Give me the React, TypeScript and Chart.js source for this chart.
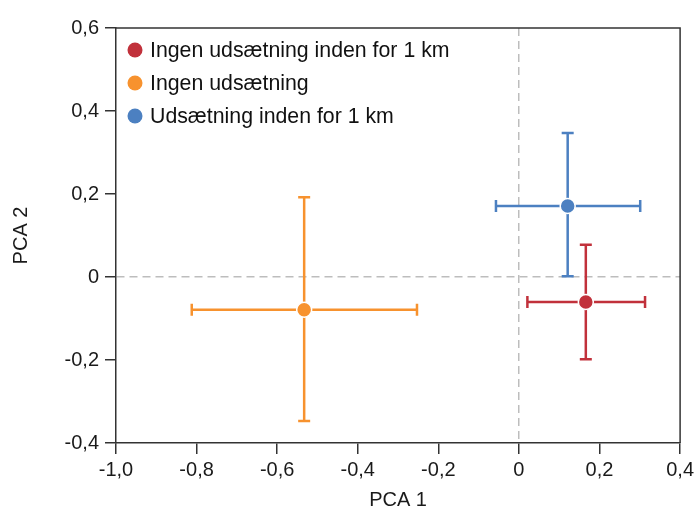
import { useEffect, useRef } from "react"
import { Chart, registerables } from "chart.js"

Chart.register(...registerables)

// grupper og PCA-gennemsnit med spredning
const groups = ["Ingen udsætning inden for 1 km", "Ingen udsætning", "Udsætning inden for 1 km"]
const groupColors = ["#C1313B", "#F7922E", "#4C80C1"]
const pca1 = [0.166, -0.533, 0.121]
const pca2 = [-0.06, -0.079, 0.171]
const pca1Low = [0.021, -0.812, -0.057]
const pca1High = [0.313, -0.253, 0.301]
const pca2Low = [-0.198, -0.347, 0.002]
const pca2High = [0.078, 0.192, 0.347]

const xTickValues = [-1, -0.8, -0.6, -0.4, -0.2, 0, 0.2, 0.4]
const yTickValues = [-0.4, -0.2, 0, 0.2, 0.4, 0.6]

const FONT = "'Liberation Sans', Arial, Helvetica, sans-serif"
const AXIS = "#333333"

const fmt = (v: number) => (Math.abs(v) < 1e-9 ? "0" : v.toFixed(1).replace(".", ","))

const errorBars = {
  id: "errorBars",
  beforeDatasetsDraw(chart: any) {
    const { ctx, scales } = chart
    const x = scales.x
    const y = scales.y
    const cap = 6
    ctx.save()
    ctx.lineWidth = 2.5
    groups.forEach((_, i) => {
      const cx = x.getPixelForValue(pca1[i])
      const cy = y.getPixelForValue(pca2[i])
      const x0 = x.getPixelForValue(pca1Low[i])
      const x1 = x.getPixelForValue(pca1High[i])
      const y0 = y.getPixelForValue(pca2Low[i])
      const y1 = y.getPixelForValue(pca2High[i])
      ctx.strokeStyle = groupColors[i]
      ctx.beginPath()
      ctx.moveTo(x0, cy)
      ctx.lineTo(x1, cy)
      ctx.moveTo(x0, cy - cap)
      ctx.lineTo(x0, cy + cap)
      ctx.moveTo(x1, cy - cap)
      ctx.lineTo(x1, cy + cap)
      ctx.moveTo(cx, y0)
      ctx.lineTo(cx, y1)
      ctx.moveTo(cx - cap, y0)
      ctx.lineTo(cx + cap, y0)
      ctx.moveTo(cx - cap, y1)
      ctx.lineTo(cx + cap, y1)
      ctx.stroke()
    })
    ctx.restore()
  },
}

const frameAndLegend = {
  id: "frameAndLegend",
  afterDraw(chart: any) {
    const { ctx, chartArea } = chart
    ctx.save()
    ctx.strokeStyle = AXIS
    ctx.lineWidth = 1.5
    ctx.beginPath()
    ctx.moveTo(chartArea.left, chartArea.top)
    ctx.lineTo(chartArea.right, chartArea.top)
    ctx.lineTo(chartArea.right, chartArea.bottom)
    ctx.stroke()

    ctx.font = `21.3px ${FONT}`
    ctx.textBaseline = "middle"
    ctx.textAlign = "left"
    groups.forEach((g, i) => {
      const cy = chartArea.top + 22 + i * 33
      const cx = chartArea.left + 19
      ctx.beginPath()
      ctx.arc(cx, cy, 7.5, 0, Math.PI * 2)
      ctx.fillStyle = groupColors[i]
      ctx.fill()
      ctx.fillStyle = "#111111"
      ctx.fillText(g, chartArea.left + 34, cy + 1)
    })
    ctx.restore()
  },
}

export default function App() {
  const canvasRef = useRef<HTMLCanvasElement>(null)

  useEffect(() => {
    document.body.style.margin = "0"
    if (!canvasRef.current) return

    const zeroLine = (ctx: any) => (Math.abs(ctx.tick?.value ?? 1) < 1e-9 ? "#bdbdbd" : "rgba(0,0,0,0)")

    const chart = new Chart(canvasRef.current, {
      type: "scatter",
      data: {
        datasets: groups.map((g, i) => ({
          label: g,
          data: [{ x: pca1[i], y: pca2[i] }],
          pointRadius: 7.5,
          pointHoverRadius: 7.5,
          pointBackgroundColor: groupColors[i],
          pointBorderColor: "#ffffff",
          pointBorderWidth: 1.5,
        })),
      },
      options: {
        animation: false,
        responsive: true,
        maintainAspectRatio: false,
        layout: { padding: { left: 0, top: 28, right: 14, bottom: 0 } },
        plugins: {
          legend: { display: false },
          tooltip: { enabled: false },
        },
        scales: {
          x: {
            type: "linear",
            min: -1,
            max: 0.4,
            afterBuildTicks: (scale: any) => {
              scale.ticks = xTickValues.map((v) => ({ value: v }))
            },
            afterFit: (scale: any) => {
              scale.height = 63
            },
            ticks: {
              callback: (v: any) => fmt(Number(v)),
              font: { family: FONT, size: 20 },
              color: "#1a1a1a",
              padding: 4,
              maxRotation: 0,
            },
            grid: {
              color: zeroLine,
              lineWidth: 1.5,
              tickColor: AXIS,
              tickWidth: 1.5,
              tickLength: 11,
            },
            border: { display: true, color: AXIS, width: 1.5, dash: [8, 5] },
            title: {
              display: true,
              text: "PCA 1",
              font: { family: FONT, size: 20 },
              color: "#1a1a1a",
              padding: { top: 0, bottom: -6 },
            },
          },
          y: {
            type: "linear",
            min: -0.4,
            max: 0.6,
            afterBuildTicks: (scale: any) => {
              scale.ticks = yTickValues.map((v) => ({ value: v }))
            },
            afterFit: (scale: any) => {
              scale.width = 116
            },
            ticks: {
              callback: (v: any) => fmt(Number(v)),
              font: { family: FONT, size: 20 },
              color: "#1a1a1a",
              padding: 6,
            },
            grid: {
              color: zeroLine,
              lineWidth: 1.5,
              tickColor: AXIS,
              tickWidth: 1.5,
              tickLength: 11,
            },
            border: { display: true, color: AXIS, width: 1.5, dash: [8, 5] },
            title: {
              display: true,
              text: "PCA 2",
              font: { family: FONT, size: 20 },
              color: "#1a1a1a",
              padding: { top: 9, bottom: 0 },
            },
          },
        },
      },
      plugins: [errorBars, frameAndLegend],
    })

    return () => {
      chart.destroy()
    }
  }, [])

  return (
    <div style={{ width: 698, height: 506, position: "relative" }}>
      <canvas ref={canvasRef} />
    </div>
  )
}
